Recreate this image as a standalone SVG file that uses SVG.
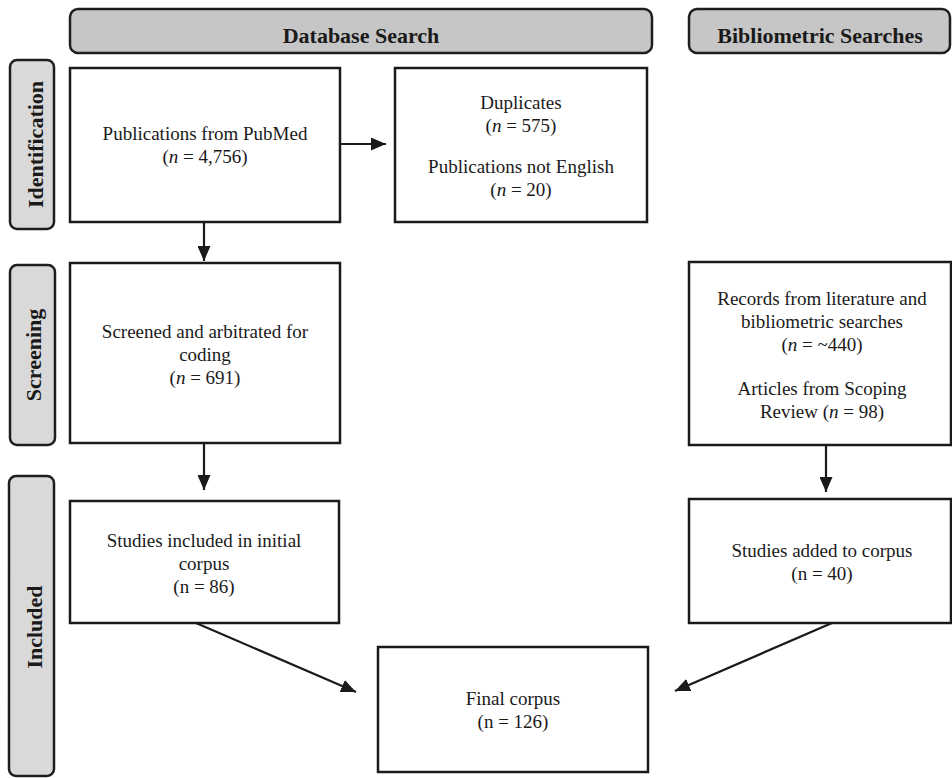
<svg xmlns="http://www.w3.org/2000/svg" width="952" height="778" viewBox="0 0 952 778">
<defs>
<style>
.hdr{fill:#c6c6c6;stroke:#1e1e1e;stroke-width:2.5}
.side{fill:#d9d9d9;stroke:#1e1e1e;stroke-width:2.5}
.box{fill:#fff;stroke:#1a1a1a;stroke-width:2.5}
.ht{font-family:"Liberation Serif","Times New Roman",serif;font-weight:bold;font-size:22px;fill:#1a1a1a;text-anchor:middle}
.t{font-family:"Liberation Serif","Times New Roman",serif;font-size:19px;fill:#1a1a1a;text-anchor:middle}
.i{font-style:italic}
.ln{stroke:#1a1a1a;stroke-width:2.2;fill:none;marker-end:url(#ah)}
</style>
<marker id="ah" viewBox="0 0 15 13" refX="15" refY="6.5" markerWidth="15" markerHeight="13" markerUnits="userSpaceOnUse" orient="auto">
<path d="M0,0 L15,6.5 L0,13 z" fill="#1a1a1a"/>
</marker>
</defs>
<rect width="952" height="778" fill="#fff"/>

<g id="header-database">
<rect class="hdr" x="70" y="9" width="582" height="44" rx="8"/>
<text class="ht" x="361" y="43">Database Search</text>
</g>
<g id="header-bibliometric">
<rect class="hdr" x="689" y="9" width="261" height="44" rx="8"/>
<text class="ht" x="820" y="43">Bibliometric Searches</text>
</g>

<g id="stage-identification">
<rect class="side" x="10" y="60" width="44" height="169" rx="7"/>
<text class="ht" transform="translate(43,144.5) rotate(-90)" x="0" y="0">Identification</text>
</g>
<g id="stage-screening">
<rect class="side" x="10" y="265" width="45" height="180" rx="7"/>
<text class="ht" transform="translate(41,355) rotate(-90)" x="0" y="0">Screening</text>
</g>
<g id="stage-included">
<rect class="side" x="9" y="476" width="45" height="300" rx="7"/>
<text class="ht" transform="translate(42,627) rotate(-90)" x="0" y="0">Included</text>
</g>

<g id="pubmed">
<rect class="box" x="70" y="68" width="270" height="154"/>
<text class="t" x="205" y="140">Publications from PubMed</text>
<text class="t" x="205" y="163">(<tspan class="i">n</tspan> = 4,756)</text>
</g>
<g id="excluded">
<rect class="box" x="395" y="68" width="252" height="154"/>
<text class="t" x="521" y="109">Duplicates</text>
<text class="t" x="521" y="132">(<tspan class="i">n</tspan> = 575)</text>
<text class="t" x="521" y="173">Publications not English</text>
<text class="t" x="521" y="196">(<tspan class="i">n</tspan> = 20)</text>
</g>
<g id="screened">
<rect class="box" x="70" y="263" width="270" height="180"/>
<text class="t" x="205" y="338">Screened and arbitrated for</text>
<text class="t" x="205" y="361">coding</text>
<text class="t" x="205" y="384">(<tspan class="i">n</tspan> = 691)</text>
</g>
<g id="records">
<rect class="box" x="689" y="262" width="262" height="183"/>
<text class="t" x="822" y="305">Records from literature and</text>
<text class="t" x="822" y="328">bibliometric searches</text>
<text class="t" x="822" y="351">(<tspan class="i">n</tspan> = ~440)</text>
<text class="t" x="822" y="395">Articles from Scoping</text>
<text class="t" x="822" y="418">Review (<tspan class="i">n</tspan> = 98)</text>
</g>
<g id="initial-corpus">
<rect class="box" x="70" y="501" width="269" height="122"/>
<text class="t" x="204" y="547">Studies included in initial</text>
<text class="t" x="204" y="570">corpus</text>
<text class="t" x="204" y="593">(n = 86)</text>
</g>
<g id="added-corpus">
<rect class="box" x="689" y="499" width="262" height="124"/>
<text class="t" x="822" y="557">Studies added to corpus</text>
<text class="t" x="822" y="580">(n = 40)</text>
</g>
<g id="final-corpus">
<rect class="box" x="378" y="647" width="270" height="125"/>
<text class="t" x="513" y="705">Final corpus</text>
<text class="t" x="513" y="728">(n = 126)</text>
</g>

<g id="connectors">
<line class="ln" x1="340" y1="144" x2="386" y2="144"/>
<line class="ln" x1="204" y1="222" x2="204" y2="261"/>
<line class="ln" x1="204" y1="443" x2="204" y2="490"/>
<line class="ln" x1="826" y1="445" x2="826" y2="492"/>
<line class="ln" x1="196" y1="623" x2="356" y2="692"/>
<line class="ln" x1="832" y1="623" x2="675" y2="691"/>
</g>
</svg>
